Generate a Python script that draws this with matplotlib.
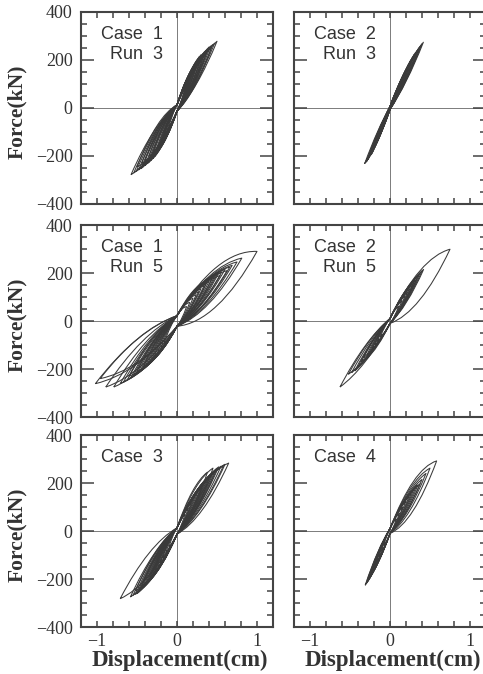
import matplotlib.pyplot as plt
from matplotlib.path import Path
from matplotlib.patches import PathPatch
from matplotlib.ticker import MultipleLocator

# one entry per cycle: positive peak (disp cm, force kN), negative peak,
# and the bulge of the positive / negative half-loop (kN)
c1r3_dp = [0.50, 0.47, 0.445, 0.42, 0.40, 0.38, 0.36, 0.34, 0.32, 0.30, 0.28, 0.26,
           0.24, 0.22, 0.20, 0.18, 0.16, 0.14, 0.12, 0.43, 0.37, 0.33, 0.29, 0.25]
c1r3_fp = [278, 270, 264, 258, 254, 246, 240, 233, 226, 222, 215, 205,
           195, 182, 170, 155, 140, 125, 105, 250, 230, 215, 200, 185]
c1r3_dn = [-0.575, -0.54, -0.51, -0.48, -0.45, -0.43, -0.40, -0.37, -0.35, -0.33, -0.30, -0.28,
           -0.26, -0.24, -0.22, -0.20, -0.18, -0.15, -0.12, -0.50, -0.44, -0.40, -0.35, -0.30]
c1r3_fn = [-278, -270, -264, -258, -253, -246, -240, -232, -226, -220, -211, -203,
           -193, -182, -170, -155, -140, -122, -100, -245, -230, -218, -200, -185]
c1r3_wp = [28, 26, 26, 25, 24, 23, 22, 21, 20, 19, 18, 17, 16, 15, 14, 13, 12, 10, 9, 32, 30, 28, 26, 23]
c1r3_wn = [36, 34, 33, 31, 29, 28, 26, 26, 24, 23, 21, 20, 19, 18, 17, 15, 14, 12, 10, 42, 38, 35, 32, 28]

c2r3_dp = [0.417, 0.40, 0.39, 0.375, 0.36, 0.34, 0.32, 0.30, 0.28, 0.26, 0.23, 0.20, 0.16, 0.12]
c2r3_fp = [274, 268, 262, 257, 250, 240, 232, 222, 210, 200, 180, 160, 130, 100]
c2r3_dn = [-0.317, -0.30, -0.29, -0.275, -0.265, -0.25, -0.24, -0.233, -0.22, -0.20, -0.18, -0.16, -0.13, -0.10]
c2r3_fn = [-232, -226, -222, -215, -208, -200, -196, -194, -185, -170, -155, -140, -112, -88]
c2r3_wp = [18, 17, 16, 15, 14, 13, 13, 12, 11, 10, 9, 8, 7, 6]
c2r3_wn = [12, 12, 11, 11, 10, 10, 9, 9, 8, 8, 7, 6, 5, 4]

c1r5_dp = [1.00, 0.81, 0.75, 0.69, 0.66, 0.625, 0.60, 0.56, 0.54, 0.50, 0.47, 0.44,
           0.40, 0.37, 0.34, 0.30, 0.27, 0.24, 0.20, 0.16, 0.12, 0.52, 0.45, 0.38]
c1r5_fp = [290, 262, 246, 232, 225, 210, 215, 205, 190, 195, 185, 178,
           165, 158, 148, 135, 122, 110, 95, 78, 60, 200, 185, 170]
c1r5_dn = [-1.02, -0.96, -0.89, -0.79, -0.71, -0.67, -0.625, -0.58, -0.55, -0.52, -0.49, -0.46,
           -0.43, -0.40, -0.37, -0.34, -0.31, -0.28, -0.24, -0.20, -0.16, -0.60, -0.50, -0.42]
c1r5_fn = [-261, -240, -275, -275, -261, -255, -247, -238, -230, -222, -215, -208,
           -200, -190, -180, -170, -158, -145, -128, -110, -90, -230, -210, -190]
c1r5_wp = [70, 45, 40, 36, 34, 32, 30, 28, 26, 25, 24, 22, 20, 20, 18, 16, 15, 14, 12, 10, 8, 30, 28, 25]
c1r5_wn = [40, 38, 38, 36, 34, 32, 30, 28, 28, 26, 25, 24, 22, 20, 20, 18, 16, 15, 14, 12, 10, 34, 30, 26]

c2r5_dp = [0.75, 0.42, 0.40, 0.37, 0.35, 0.33, 0.30, 0.28, 0.25, 0.22, 0.19, 0.15, 0.11, 0.31]
c2r5_fp = [299, 215, 208, 195, 187, 174, 160, 150, 135, 120, 105, 85, 62, 170]
c2r5_dn = [-0.625, -0.52, -0.48, -0.44, -0.40, -0.36, -0.33, -0.29, -0.25, -0.22, -0.19, -0.16, -0.12, -0.30]
c2r5_fn = [-275, -222, -215, -208, -190, -170, -153, -142, -132, -115, -100, -85, -65, -160]
c2r5_wp = [55, 22, 20, 18, 17, 16, 15, 14, 12, 11, 10, 8, 6, 18]
c2r5_wn = [28, 22, 20, 18, 16, 15, 14, 13, 12, 10, 9, 8, 6, 15]

c3_dp = [0.646, 0.60, 0.583, 0.55, 0.52, 0.50, 0.48, 0.46, 0.44, 0.42, 0.40, 0.38,
         0.36, 0.34, 0.32, 0.30, 0.27, 0.24, 0.21, 0.18, 0.14, 0.10, 0.45, 0.38]
c3_fp = [283, 278, 274, 270, 267, 260, 253, 248, 240, 236, 228, 220,
         212, 205, 195, 185, 172, 158, 140, 120, 95, 70, 262, 245]
c3_dn = [-0.71, -0.583, -0.55, -0.52, -0.50, -0.48, -0.46, -0.44, -0.42, -0.40, -0.38, -0.36,
         -0.35, -0.33, -0.31, -0.29, -0.27, -0.24, -0.21, -0.18, -0.14, -0.10, -0.52, -0.44]
c3_fn = [-282, -275, -268, -264, -261, -254, -247, -240, -235, -228, -220, -212,
         -205, -195, -185, -175, -165, -150, -132, -112, -90, -66, -250, -228]
c3_wp = [44, 38, 35, 33, 31, 30, 29, 28, 27, 25, 24, 23, 22, 20, 19, 18, 16, 15, 13, 11, 9, 7, 38, 34]
c3_wn = [40, 33, 31, 30, 29, 28, 27, 26, 25, 24, 23, 22, 21, 19, 18, 17, 16, 14, 13, 11, 9, 7, 34, 30]

c4_dp = [0.583, 0.50, 0.45, 0.40, 0.375, 0.35, 0.333, 0.30, 0.27, 0.24, 0.20, 0.16, 0.12, 0.08]
c4_fp = [292, 262, 240, 215, 197, 192, 190, 175, 160, 145, 125, 100, 75, 50]
c4_dn = [-0.31, -0.30, -0.29, -0.28, -0.27, -0.26, -0.25, -0.23, -0.21, -0.19, -0.17, -0.14, -0.11, -0.08]
c4_fn = [-226, -220, -215, -210, -205, -198, -190, -175, -160, -145, -128, -108, -85, -60]
c4_wp = [55, 40, 30, 25, 22, 20, 18, 16, 14, 12, 10, 9, 7, 5]
c4_wn = [18, 17, 16, 15, 15, 14, 14, 13, 12, 11, 10, 8, 7, 5]

# force offset where the loops cross zero displacement, per panel (kN)
waist = [13, 6, 22, 10, 13, 10]

titles = ['Case  1\nRun  3', 'Case  2\nRun  3',
          'Case  1\nRun  5', 'Case  2\nRun  5',
          'Case  3', 'Case  4']
panels = [
    (c1r3_dp, c1r3_fp, c1r3_dn, c1r3_fn, c1r3_wp, c1r3_wn),
    (c2r3_dp, c2r3_fp, c2r3_dn, c2r3_fn, c2r3_wp, c2r3_wn),
    (c1r5_dp, c1r5_fp, c1r5_dn, c1r5_fn, c1r5_wp, c1r5_wn),
    (c2r5_dp, c2r5_fp, c2r5_dn, c2r5_fn, c2r5_wp, c2r5_wn),
    (c3_dp, c3_fp, c3_dn, c3_fn, c3_wp, c3_wn),
    (c4_dp, c4_fp, c4_dn, c4_fn, c4_wp, c4_wn),
]

INK = '#3a3a3a'
plt.rcParams['font.family'] = ['Liberation Serif', 'DejaVu Serif']


def arc(a, b, h):
    # cubic segment from a to b, bowed by h in the force direction
    dx, dy = b[0] - a[0], b[1] - a[1]
    k = h / 0.75
    return [(a[0] + dx / 3, a[1] + dy / 3 + k), (a[0] + 2 * dx / 3, a[1] + 2 * dy / 3 + k), b]


def loop_patch(dp, fp, dn, fn, wp, wn, g):
    # one cycle: loading branch runs under the chord, unloading over it,
    # with both halves pinched near the origin
    pn, pp = (dn, fn), (dp, fp)
    lo, up = (0.0, -g), (0.0, g)
    verts = [pn] + arc(pn, lo, -wn) + arc(lo, pp, -wp) + arc(pp, up, wp) + arc(up, pn, wn)
    codes = [Path.MOVETO] + [Path.CURVE4] * 12
    return PathPatch(Path(verts, codes), fill=False, lw=0.75, ec=INK, joinstyle='round')


W, H = 483, 674
fig = plt.figure(figsize=(W / 100, H / 100), dpi=100)
lefts = [81, 294]
tops = [12, 225, 435]

for i, (data, title) in enumerate(zip(panels, titles)):
    row, col = divmod(i, 2)
    x0, y0 = lefts[col], tops[row]
    ax = fig.add_axes([x0 / W, 1 - (y0 + 192) / H, 192 / W, 192 / H])
    ax.set_xlim(-1.2, 1.2)
    ax.set_ylim(-400, 400)
    ax.axhline(0, color='#666666', lw=0.6, zorder=1)
    ax.axvline(0, color='#666666', lw=0.6, zorder=1)
    for dp, fp, dn, fn, wp, wn in zip(*data):
        ax.add_patch(loop_patch(dp, fp, dn, fn, wp, wn, waist[i]))

    ax.xaxis.set_major_locator(MultipleLocator(1))
    ax.xaxis.set_minor_locator(MultipleLocator(0.2))
    ax.yaxis.set_major_locator(MultipleLocator(200))
    ax.yaxis.set_minor_locator(MultipleLocator(50))
    ax.tick_params(which='both', direction='in', top=True, right=True,
                   width=1.1, color='#444444', labelsize=13, labelcolor='#333333')
    ax.tick_params(axis='x', which='both', length=4.5, pad=4)
    ax.tick_params(axis='y', which='major', length=9.5, pad=6)
    ax.tick_params(axis='y', which='minor', length=4.5)
    for s in ax.spines.values():
        s.set_linewidth(1.5)
        s.set_color('#444444')
    if col == 1:
        ax.tick_params(labelleft=False)
    if row < 2:
        ax.tick_params(labelbottom=False)

    ax.text(0.425, 0.925, title, transform=ax.transAxes, ha='right', va='top',
            family=['Liberation Sans', 'DejaVu Sans'], fontsize=13, color='#333333',
            linespacing=1.2, multialignment='right')

    if col == 0:
        fig.text(17 / W, 1 - (y0 + 100) / H, 'Force(kN)', rotation=90, ha='center', va='center',
                 fontsize=15.5, fontweight='bold', color='#333333')
    if row == 2:
        fig.text((x0 + 99) / W, 1 - 666 / H, 'Displacement(cm)', ha='center', va='baseline',
                 fontsize=16.5, fontweight='bold', color='#333333')

fig.savefig('out.png', dpi=100)
